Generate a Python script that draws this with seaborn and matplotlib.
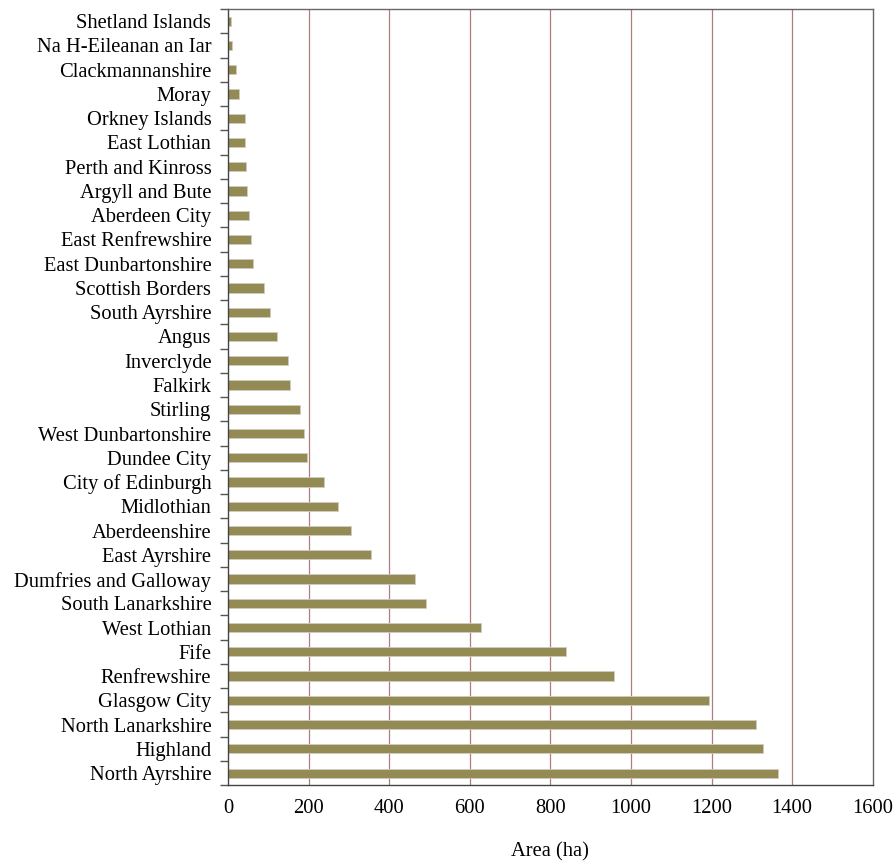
import matplotlib
matplotlib.use("Agg")
import matplotlib.pyplot as plt
import seaborn as sns
import pandas as pd
import numpy as np

areas = ["Shetland Islands", "Na H-Eileanan an Iar", "Clackmannanshire", "Moray",
         "Orkney Islands", "East Lothian", "Perth and Kinross", "Argyll and Bute",
         "Aberdeen City", "East Renfrewshire", "East Dunbartonshire", "Scottish Borders",
         "South Ayrshire", "Angus", "Inverclyde", "Falkirk", "Stirling",
         "West Dunbartonshire", "Dundee City", "City of Edinburgh", "Midlothian",
         "Aberdeenshire", "East Ayrshire", "Dumfries and Galloway", "South Lanarkshire",
         "West Lothian", "Fife", "Renfrewshire", "Glasgow City", "North Lanarkshire",
         "Highland", "North Ayrshire"]
values = [8, 11, 21, 27, 42, 42, 44, 47, 51, 58, 63, 89, 103, 122, 148, 155, 178,
          189, 196, 238, 272, 306, 355, 465, 491, 627, 840, 957, 1194, 1310, 1327, 1364]
x_ticks = [0, 200, 400, 600, 800, 1000, 1200, 1400, 1600]
x_label = "Area (ha)"

df = pd.DataFrame({"area": areas, "value": values})

sns.set_style("white")
plt.rcParams['font.family'] = ['Liberation Serif', 'DejaVu Serif']
plt.rcParams['text.color'] = 'black'
plt.rcParams['xtick.color'] = 'black'
plt.rcParams['ytick.color'] = 'black'
plt.rcParams['axes.labelcolor'] = 'black'

fig = plt.figure(figsize=(8.96, 8.65), dpi=100)
ax = fig.add_axes([0.2545, 0.0922, 0.974 - 0.2545, 0.9896 - 0.0922])

sns.barplot(data=df, y="area", x="value", orient="h", color="#948A54",
            saturation=1, width=0.38, edgecolor="#cfccc0", linewidth=0.6, ax=ax)

fs = 14.8
ax.set_xlim(0, 1600)
ax.set_ylim(len(areas) - 0.5, -0.5)
ax.set_xticks(x_ticks)
ax.set_xticklabels([str(t) for t in x_ticks], fontsize=fs, color='black')
ax.tick_params(axis='x', length=0, pad=10)

# category boundary ticks on y
ax.set_yticks(np.arange(len(areas)))
ax.set_yticklabels(areas, fontsize=fs, color='black')
ax.tick_params(axis='y', which='major', left=True, length=0, pad=12)
ax.set_yticks(np.arange(len(areas) + 1) - 0.5, minor=True)
ax.tick_params(axis='y', which='minor', left=True, length=6, width=1,
               color='#555555', direction='out')

for t in x_ticks[1:-1]:
    ax.axvline(t, color='#b07c7c', linewidth=0.9, zorder=0)

for s in ax.spines.values():
    s.set_visible(True)
    s.set_color('#666666')
    s.set_linewidth(1.0)
ax.spines['left'].set_color('#444444')
ax.spines['bottom'].set_color('#444444')

ax.set_xlabel(x_label, fontsize=fs, labelpad=17, color='black')
ax.set_ylabel("")

fig.savefig("out.png", dpi=100)
